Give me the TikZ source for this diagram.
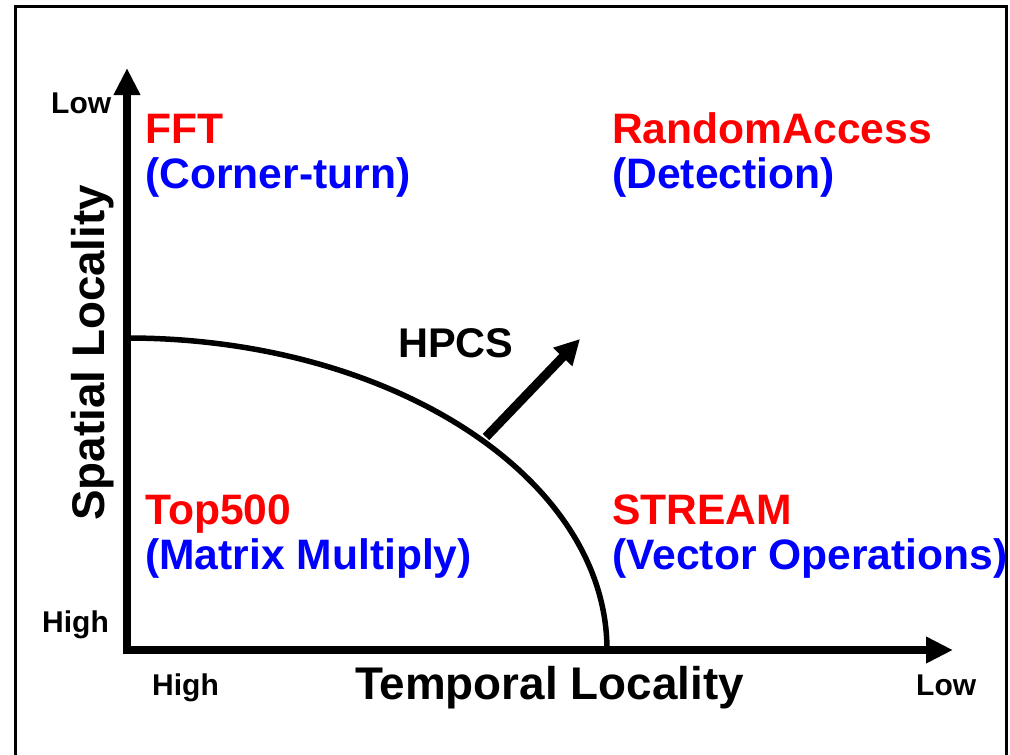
\documentclass[tikz,border=0pt]{standalone}
\usepackage{fontspec}
\setmainfont{Liberation Sans}
\usetikzlibrary{arrows.meta}
\definecolor{benchred}{HTML}{FF0000}
\definecolor{benchblue}{HTML}{0000FF}

\begin{document}
\begin{tikzpicture}[x=1pt, y=-1pt,
    axis/.style={draw=black, line width=8.5pt, -{Triangle[length=27pt, width=25pt]}},
    lowhigh/.style={anchor=base west, inner sep=0pt, font=\bfseries\fontsize{30}{32}\selectfont},
    axislabel/.style={anchor=base west, inner sep=0pt, font=\bfseries\fontsize{45.8}{48}\selectfont},
    bench/.style={anchor=base west, inner sep=0pt, text=benchred, font=\bfseries\fontsize{42.6}{45}\selectfont},
    kernel/.style={bench, text=benchblue},
    front/.style={draw=black, line width=5.5pt},
    push/.style={draw=black, line width=9pt, -{Triangle[length=25pt, width=25pt]}}
  ]
    \useasboundingbox (0,0) rectangle (1010,755);
    \draw[line width=3pt] (15,760) -- (15,6) -- (1006,6) -- (1006,760);

    \coordinate (origin) at (127,650);
    \coordinate (ytop)   at (127,68);
    \coordinate (xend)   at (953,650);
    \draw[axis] (127,654) -- (ytop);
    \draw[axis] (123,650) -- (xend);

    \node[lowhigh] (ylow)  at (51,113)  {Low};
    \node[lowhigh] (yhigh) at (42,632)  {High};
    \node[lowhigh] (xhigh) at (152,695) {High};
    \node[lowhigh] (xlow)  at (916,695) {Low};

    \node[axislabel] (temporal) at (355,699) {Temporal Locality};
    \node[axislabel, rotate=90] (spatial) at (104,521) {Spatial Locality};

    \node[bench]  (fft)     at (145,143) {FFT};
    \node[kernel] (fftsub)  at (145,188) {(Corner-turn)};
    \node[bench]  (ra)      at (612,143) {RandomAccess};
    \node[kernel] (rasub)   at (612,188) {(Detection)};
    \node[bench]  (top)     at (145,524) {Top500};
    \node[kernel] (topsub)  at (145,569) {(Matrix Multiply)};
    \node[bench]  (stream)  at (612,524) {STREAM};
    \node[kernel] (strsub)  at (612,569) {(Vector Operations)};

    \coordinate (fstart) at (127,338);
    \coordinate (fend)   at (607,650);
    \draw[front] (fstart) .. controls (392,338) and (607,478) .. (fend);

    \coordinate (pbase) at (486,437);
    \coordinate (ptip)  at (580,339);
    \draw[push] (pbase) -- (ptip);
    \node[anchor=base west, inner sep=0pt, font=\bfseries\fontsize{41.5}{44}\selectfont] (hpcs) at (398,357) {HPCS};
  \end{tikzpicture}
\end{document}
